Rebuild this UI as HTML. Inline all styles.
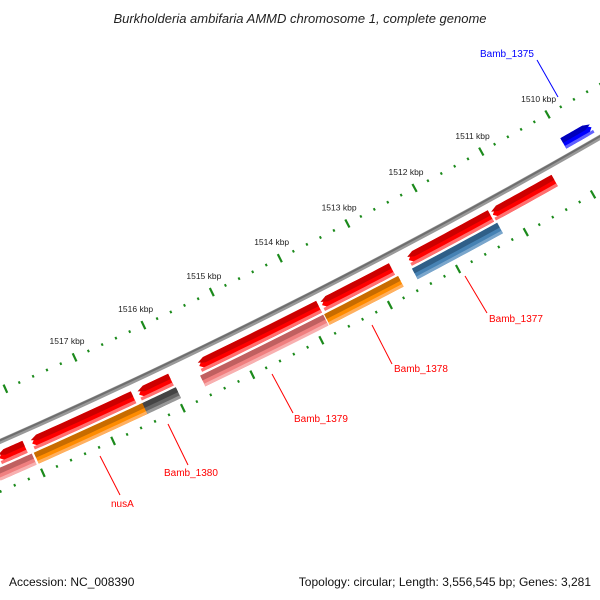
<!DOCTYPE html>
<html><head><meta charset="utf-8"><style>
body{margin:0;background:#fff}
svg{display:block;font-family:"Liberation Sans",sans-serif}
</style></head><body>
<svg id="map" width="600" height="600" viewBox="0 0 600 600">
<text x="300" y="23" text-anchor="middle" font-size="13" font-style="italic" fill="#222">Burkholderia ambifaria AMMD chromosome 1, complete genome</text>
<g id="ticks"></g>
<g id="backbone"></g>
<g id="features"></g>
<g id="labels"></g>
<text x="9" y="586" font-size="12" fill="#111">Accession: NC_008390</text>
<text x="591" y="586" font-size="12" text-anchor="end" fill="#111">Topology: circular; Length: 3,556,545 bp; Genes: 3,281</text>
</svg>
<script>
// Data
const featStart=[1510345,1511296,1512760,1513829,1515981,1516520,1518074,1511267,1512731,1513829,1515966,1516450,1518031,1509583];
const featEnd  =[1511267,1512511,1513785,1515571,1516440,1517972,1518440,1512526,1513814,1515615,1516493,1518001,1518543,1510008];
const featLane =[1,1,1,1,1,1,1,2,2,2,2,2,2,0];
const featColor=["red","red","red","red","red","red","red","steelblue","orange","pink","gray","orange","pink","blue"];
const tickKbp=[1508,1509,1510,1511,1512,1513,1514,1515,1516,1517,1518,1519];
const labelKbp=[1510,1511,1512,1513,1514,1515,1516,1517];
const geneLabels=["Bamb_1375","Bamb_1377","Bamb_1378","Bamb_1379","Bamb_1380","nusA"];

const NS="http://www.w3.org/2000/svg";
const CX=-2536,CY=-5307,R=6283;
const A0=60.37,DEG_PER_KB=0.698;
function ang(bp){return A0+(bp-1510000)/1000*DEG_PER_KB;}
function P(r,a){const t=a*Math.PI/180;return [CX+r*Math.cos(t),CY+r*Math.sin(t)];}
function pstr(p){return p[0].toFixed(2)+","+p[1].toFixed(2);}
function mk(tag,attrs,parent){const e=document.createElementNS(NS,tag);for(const k in attrs)e.setAttribute(k,attrs[k]);parent.appendChild(e);return e;}

// ticks
const tg=document.getElementById('ticks');
[R-46,R+46].forEach((rr,ri)=>{
  for(let bp=1508000;bp<=1519000;bp+=200){
    const a=ang(bp);const major=(bp%1000===0);
    const l=major?4.5:1.3;
    const p1=P(rr-l,a),p2=P(rr+l,a);
    const ln=mk('line',{x1:p1[0],y1:p1[1],x2:p2[0],y2:p2[1],stroke:'#1b8a1b','stroke-width':major?2.2:2},tg);
    
    
  }
});
labelKbp.forEach(k=>{
  const p=P(R-46-18,ang(k*1000));
  const t=mk('text',{x:p[0],y:p[1]+3,'text-anchor':'middle','font-size':'8.5',fill:'#222'},tg);
  t.textContent=k+" kbp";
  
  
});

// backbone
const bg=document.getElementById('backbone');
function arcPath(r,a1,a2){let d="";for(let i=0;i<=40;i++){const a=a1+(a2-a1)*i/40;d+=(i?"L":"M")+pstr(P(r,a));}return d;}
const b1=mk('path',{d:arcPath(R,57,68),stroke:'#999',fill:'none','stroke-width':5},bg);


const b2=mk('path',{d:arcPath(R-1,57,68),stroke:'#6e6e6e',fill:'none','stroke-width':2},bg);



// features
const laneR=[R-13,R+15,R+30];
const laneH=[6,6.5,6];
const colors={red:['#ff0000','#cc0000','#ff7070'],steelblue:['#4682b4','#2f5f88','#7aa6cc'],orange:['#ff8c00','#c86c00','#ffb060'],pink:['#f08080','#c06060','#f8b0b0'],gray:['#666666','#444444','#999999'],blue:['#0000ff','#0000bb','#6060ff']};
const fg=document.getElementById('features');
function shape(rc,h,a1,a2,headEnd,headStart){
  const hd=7/R*180/Math.PI;
  let b=a1,e=a2;
  if(headEnd)e=a2-hd; if(headStart)b=a1+hd;
  const pts=[];
  if(headStart)pts.push(P(rc,a1));
  for(let i=0;i<=12;i++)pts.push(P(rc-h,b+(e-b)*i/12));
  if(headEnd)pts.push(P(rc,a2));
  for(let i=12;i>=0;i--)pts.push(P(rc+h,b+(e-b)*i/12));
  return pts.map(pstr).join(" ");
}
featStart.forEach((s,i)=>{
  const lane=featLane[i],rc=laneR[lane],h=laneH[lane];
  const a1=ang(s),a2=ang(featEnd[i]);
  const c=colors[featColor[i]];
  const he=lane===1,hs=lane===0;
  const g=mk('g',{},fg);
  
  
  mk('polygon',{points:shape(rc,h,a1,a2,he,hs),fill:c[0]},g);
  mk('polygon',{points:shape(rc-h*0.55,h*0.45,a1,a2,he,hs),fill:c[1]},g);
  mk('polygon',{points:shape(rc+h*0.75,h*0.25,a1,a2,false,false),fill:c[2]},g);
});

// labels
const lg=document.getElementById('labels');
const lab=[[480,57,537,60,558,97,'#0000ff'],[489,322,465,276,487,313,'#ff0000'],[394,372,372,325,392,364,'#ff0000'],[294,422,272,374,293,413,'#ff0000'],[164,476,168,424,188,465,'#ff0000'],[111,507,100,456,120,495,'#ff0000']];
geneLabels.forEach((name,i)=>{
  const L=lab[i];
  const ln=mk('line',{x1:L[2],y1:L[3],x2:L[4],y2:L[5],stroke:L[6],'stroke-width':1},lg);
  
  
  const t=mk('text',{x:L[0],y:L[1],'font-size':'10',fill:L[6]},lg);
  t.textContent=name;
  
  
});
</script>
</body></html>
